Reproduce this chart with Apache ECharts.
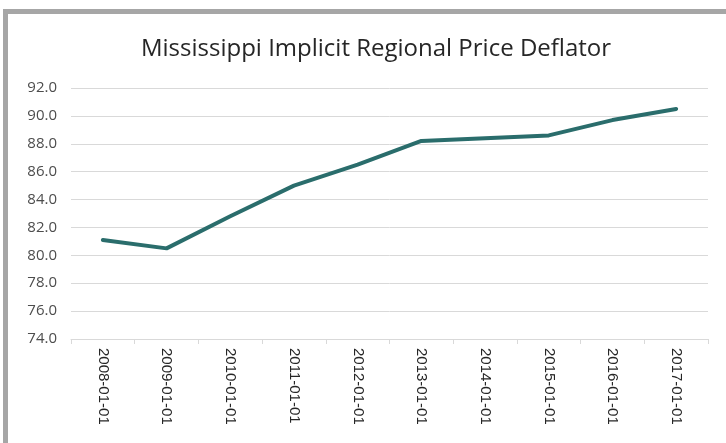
<!DOCTYPE html>
<html>
<head>
<meta charset="utf-8">
<script src="https://cdn.jsdelivr.net/npm/echarts@6/dist/echarts.min.js"></script>
<style>
  html, body { margin: 0; padding: 0; background: #fff; }
  #main { position: absolute; left: 0; top: 0; width: 726px; height: 443px; }
  #frame {
    position: absolute; left: 3px; top: 9px; width: 760px; height: 480px;
    border-left: 5px solid #a6a6a6; border-top: 5px solid #a6a6a6;
    pointer-events: none;
  }
</style>
</head>
<body>
<div id="main"></div>
<div id="frame"></div>
<script>
// data
var years = ['2008-01-01', '2009-01-01', '2010-01-01', '2011-01-01', '2012-01-01',
  '2013-01-01', '2014-01-01', '2015-01-01', '2016-01-01', '2017-01-01'];
var deflator = [81.1, 80.5, 82.8, 85.0, 86.5, 88.2, 88.4, 88.6, 89.7, 90.5];
var yMin = 74, yMax = 92, yStep = 2;

var chart = echarts.init(document.getElementById('main'));
var option = {
  backgroundColor: '#fff',
  animation: false,
  title: {
    text: 'Mississippi Implicit Regional Price Deflator',
    left: 371,
    textAlign: 'center',
    top: 32,
    textStyle: {
      fontFamily: 'Open Sans',
      fontSize: 24,
      fontWeight: 'normal',
      color: '#262626'
    }
  },
  grid: {
    left: 71,
    right: 18,
    top: 88,
    bottom: 104
  },
  xAxis: {
    type: 'category',
    data: years,
    boundaryGap: true,
    axisLine: { lineStyle: { color: '#d9d9d9', width: 1 } },
    axisTick: { show: true, length: 5, lineStyle: { color: '#d9d9d9' } },
    axisLabel: {
      rotate: -90,
      margin: 9,
      fontFamily: 'Liberation Sans',
      fontSize: 15,
      color: '#262626'
    }
  },
  yAxis: {
    type: 'value',
    min: yMin,
    max: yMax,
    interval: yStep,
    axisLine: { show: false },
    axisTick: { show: false },
    splitLine: { lineStyle: { color: '#d9d9d9', width: 1 } },
    axisLabel: {
      margin: 14,
      fontFamily: 'Open Sans',
      fontSize: 15,
      color: '#4d4d4d',
      formatter: function (v) { return v.toFixed(1); }
    }
  },
  series: [{
    name: 'Deflator',
    type: 'line',
    data: deflator,
    symbol: 'none',
    lineStyle: { color: '#2a6d6c', width: 4, cap: 'round', join: 'round' }
  }]
};
chart.setOption(option);
</script>
</body>
</html>
